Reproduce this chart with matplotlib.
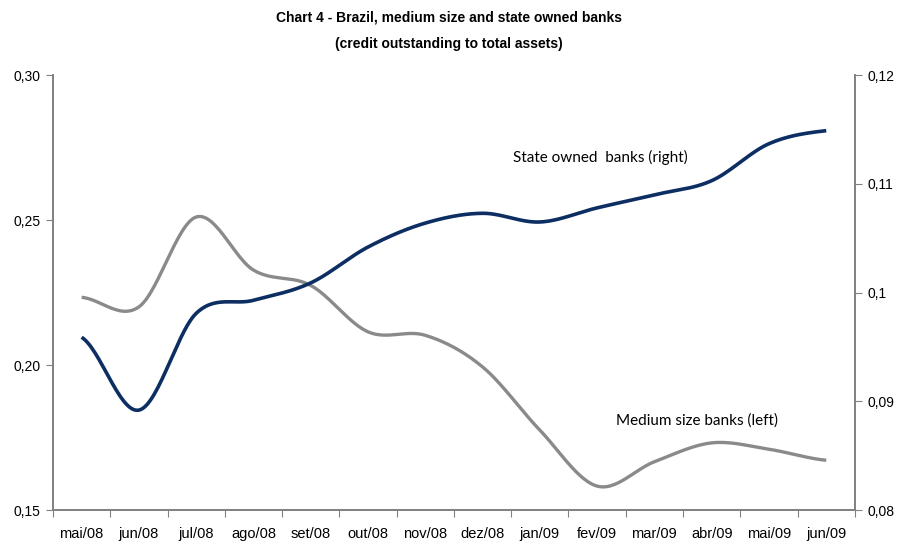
import numpy as np
import matplotlib.pyplot as plt

meses = ['mai/08', 'jun/08', 'jul/08', 'ago/08', 'set/08', 'out/08', 'nov/08',
         'dez/08', 'jan/09', 'fev/09', 'mar/09', 'abr/09', 'mai/09', 'jun/09']
# medium size banks (left axis)
medios = [0.2234, 0.2201, 0.2511, 0.2328, 0.2275, 0.2115, 0.2103,
          0.1994, 0.1776, 0.1583, 0.1667, 0.1732, 0.1710, 0.1672]
# state owned banks (right axis)
publicos = [0.0959, 0.0892, 0.0981, 0.0993, 0.1009, 0.1042, 0.1064,
            0.1073, 0.1065, 0.1078, 0.1090, 0.1103, 0.1137, 0.1149]


def suaviza(y, n=30):
    # linha suavizada tipo Excel (Catmull-Rom)
    y = np.asarray(y, dtype=float)
    p = np.concatenate([[y[0]], y, [y[-1]]])
    xs, ys = [], []
    for i in range(len(y) - 1):
        p0, p1, p2, p3 = p[i], p[i + 1], p[i + 2], p[i + 3]
        t = np.linspace(0, 1, n, endpoint=False)
        v = 0.5 * ((2 * p1) + (-p0 + p2) * t + (2 * p0 - 5 * p1 + 4 * p2 - p3) * t ** 2
                   + (-p0 + 3 * p1 - 3 * p2 + p3) * t ** 3)
        xs.append(i + t)
        ys.append(v)
    xs.append([len(y) - 1])
    ys.append([y[-1]])
    return np.concatenate(xs), np.concatenate(ys)


cinza = '#808080'
fig = plt.figure(figsize=(8.98, 5.41), dpi=100)
ax = fig.add_axes([0.059, 0.057, 0.893, 0.804])
ax2 = ax.twinx()

x1, y1 = suaviza(medios)
ax.plot(x1, y1, color='#8a8a8a', lw=2.4, solid_capstyle='butt')
x2, y2 = suaviza(publicos)
ax2.plot(x2, y2, color='#0c2e62', lw=2.6, solid_capstyle='butt')

ax.set_xlim(-0.5, 13.5)
ax.set_ylim(0.15, 0.30)
ax.set_yticks([0.15, 0.20, 0.25, 0.30])
ax.set_yticklabels(['0,15', '0,20', '0,25', '0,30'])
ax2.set_ylim(0.08, 0.12)
ax2.set_yticks([0.08, 0.09, 0.10, 0.11, 0.12])
ax2.set_yticklabels(['0,08', '0,09', '0,1', '0,11', '0,12'])

ax.set_xticks(np.arange(-0.5, 14, 1))
ax.set_xticklabels([])
ax.set_xticks(np.arange(14), minor=True)
ax.set_xticklabels(meses, minor=True)
ax.tick_params(axis='x', which='minor', length=0, pad=12, labelsize=10.5)
ax.tick_params(axis='x', which='major', length=5, color=cinza, direction='out')
ax.tick_params(axis='y', length=5, color=cinza, labelsize=10, pad=4)
ax2.tick_params(axis='y', length=5, color=cinza, labelsize=10, pad=4)

for a in (ax, ax2):
    a.spines['top'].set_visible(False)
    for s in ('left', 'right', 'bottom'):
        a.spines[s].set_color(cinza)
        a.spines[s].set_linewidth(1.2)

for lab in ax.get_xticklabels(minor=True) + ax.get_yticklabels() + ax2.get_yticklabels():
    lab.set_family('Liberation Sans')

ax2.text(9.05, 0.1124, 'State owned  banks (right)', fontsize=11, family='Lato',
         ha='center', va='center')
ax.text(10.74, 0.181, 'Medium size banks (left)', fontsize=11, family='Lato',
        ha='center', va='center')

fig.text(0.5, 0.968, 'Chart 4 - Brazil, medium size and state owned banks',
         ha='center', va='center', fontsize=10, fontweight='bold', family='Liberation Sans')
fig.text(0.5, 0.918, '(credit outstanding to total assets)',
         ha='center', va='center', fontsize=10, fontweight='bold', family='Liberation Sans')

fig.savefig('out.png', dpi=100)
